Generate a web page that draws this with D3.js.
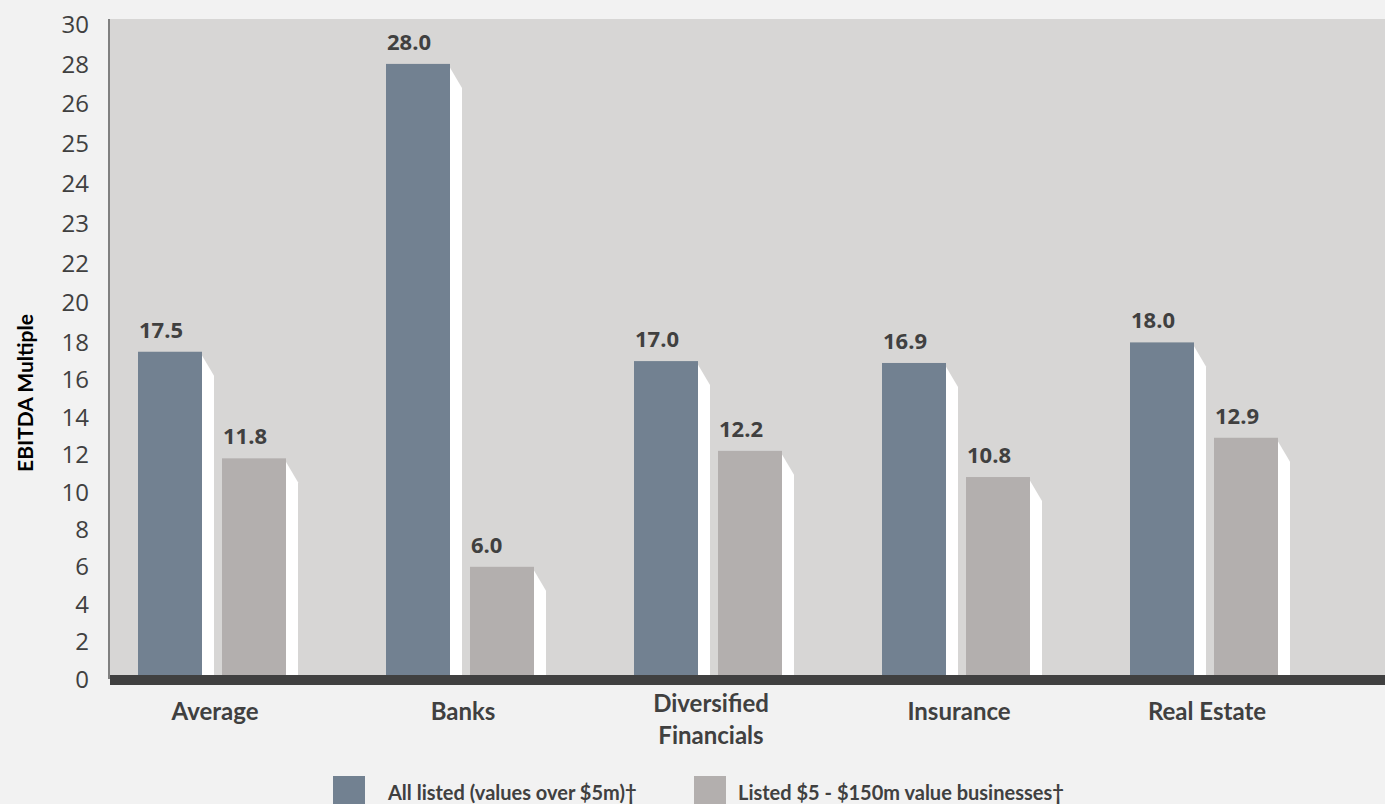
<!DOCTYPE html>
<html>
<head>
<meta charset="utf-8">
<script src="https://cdn.jsdelivr.net/npm/d3@7"></script>
<style>
	body { margin: 0; background: #f2f2f2; }
	svg { display: block; }
	.tick-label { font-family: "Open Sans", sans-serif; font-size: 24px; fill: #404040; }
	.value { font-family: "Open Sans", sans-serif; font-weight: 700; font-size: 22px; fill: #404040; }
	.cat { font-family: Lato, sans-serif; font-weight: 700; font-size: 24px; fill: #404040; }
	.legend-text { font-family: Lato, sans-serif; font-weight: 700; font-size: 20px; fill: #404040; }
	.y-title { font-family: Lato, sans-serif; font-weight: 700; font-size: 21px; fill: #000; }
</style>
</head>
<body>
<svg id="chart" width="1385" height="804"></svg>
<script>
var categories = ["Average", "Banks", "Diversified Financials", "Insurance", "Real Estate"];
var seriesNames = ["All listed (values over\u00a0$5m)\u2020", "Listed $5 - $150m value businesses\u2020"];
var allListed = [17.5, 28.0, 17.0, 16.9, 18.0];
var smallListed = [11.8, 6.0, 12.2, 10.8, 12.9];
var tickValues = [0, 2, 4, 6, 8, 10, 12, 14, 16, 18, 20, 22, 23, 24, 25, 26, 28, 30];
var colors = ["#728191", "#b3afae"];

var panel = { left: 110, top: 19, right: 1385, bottom: 675 };

var svg = d3.select("#chart");

// the axis labels are not evenly valued, so the scale is piecewise
var tickPos = tickValues.map(function(d, i) {
	return i <= 9 ? 679 - i * 37.4 : 342.5 - (i - 9) * 39.8;
});
var y = d3.scaleLinear().domain(tickValues).range(tickPos);

var x0 = d3.scaleBand().domain(categories).range([127, 127 + 248 * 5]);
var x1 = d3.scaleBand().domain([0, 1]).range([11, 159]).paddingInner(20 / 84).paddingOuter(0);

// panel
svg.append("rect")
	.attr("x", panel.left)
	.attr("y", panel.top)
	.attr("width", panel.right - panel.left)
	.attr("height", panel.bottom - panel.top)
	.attr("fill", "#d7d6d5");

svg.append("line")
	.attr("x1", 109).attr("x2", 109)
	.attr("y1", panel.top).attr("y2", 679)
	.attr("stroke", "#5a5a5a")
	.attr("stroke-width", 1.5);

// y tick labels
svg.append("g")
	.selectAll("text")
	.data(tickValues)
	.enter()
	.append("text")
	.attr("class", "tick-label")
	.attr("x", 89)
	.attr("y", function(d) { return y(d); })
	.attr("dy", "0.36em")
	.attr("text-anchor", "end")
	.text(function(d) { return d; });

svg.append("text")
	.attr("class", "y-title")
	.attr("transform", "translate(33,393) rotate(-90)")
	.attr("text-anchor", "middle")
	.text("EBITDA Multiple");

// bars
var rows = categories.map(function(c, i) {
	return { cat: c, values: [allListed[i], smallListed[i]] };
});

var groups = svg.append("g")
	.selectAll("g")
	.data(rows)
	.enter()
	.append("g")
	.attr("transform", function(d) { return "translate(" + x0(d.cat) + ",0)"; });

var bars = groups.selectAll("g.bar")
	.data(function(d) {
		return d.values.map(function(v, k) { return { v: v, k: k }; });
	})
	.enter()
	.append("g")
	.attr("class", "bar");

var bw = x1.bandwidth();
var sideW = 13, sideDrop = 22;

bars.append("path")
	.attr("fill", "#ffffff")
	.attr("d", function(d) {
		var left = x1(d.k) + bw - 1;
		var top = y(d.v) + 2;
		return "M" + left + "," + top +
			"L" + (left + sideW) + "," + (top + sideDrop) +
			"L" + (left + sideW) + "," + y(0) +
			"L" + left + "," + y(0) + "Z";
	});

bars.append("rect")
	.attr("x", function(d) { return x1(d.k); })
	.attr("y", function(d) { return y(d.v); })
	.attr("width", bw)
	.attr("height", function(d) { return y(0) - y(d.v); })
	.attr("fill", function(d) { return colors[d.k]; });

bars.append("text")
	.attr("class", "value")
	.attr("x", function(d) { return x1(d.k) + 1; })
	.attr("y", function(d) { return y(d.v) - 14; })
	.text(function(d) { return d.v.toFixed(1); });

// x axis bar
svg.append("rect")
	.attr("x", panel.left)
	.attr("y", 675)
	.attr("width", panel.right - panel.left)
	.attr("height", 10)
	.attr("fill", "#404040");

// category labels
var catLabels = svg.append("g")
	.selectAll("text")
	.data(categories)
	.enter()
	.append("text")
	.attr("class", "cat")
	.attr("text-anchor", "middle")
	.attr("x", function(d) { return x0(d) + 88; })
	.attr("y", function(d) { return d === "Diversified Financials" ? 712 : 720; });

catLabels.each(function(d) {
	var t = d3.select(this);
	var lines = d === "Diversified Financials" ? ["Diversified", "Financials"] : [d];
	lines.forEach(function(l, i) {
		t.append("tspan")
			.attr("x", t.attr("x"))
			.attr("dy", i === 0 ? 0 : 32)
			.text(l);
	});
});

// legend
var legendX = [333, 694];
var legendTextX = [388, 738];
var legend = svg.append("g")
	.selectAll("g")
	.data(seriesNames)
	.enter()
	.append("g");

legend.append("rect")
	.attr("x", function(d, i) { return legendX[i]; })
	.attr("y", 776)
	.attr("width", 32)
	.attr("height", 32)
	.attr("fill", function(d, i) { return colors[i]; });

legend.append("text")
	.attr("class", "legend-text")
	.attr("x", function(d, i) { return legendTextX[i]; })
	.attr("y", 800)
	.text(function(d) { return d; });
</script>
</body>
</html>
